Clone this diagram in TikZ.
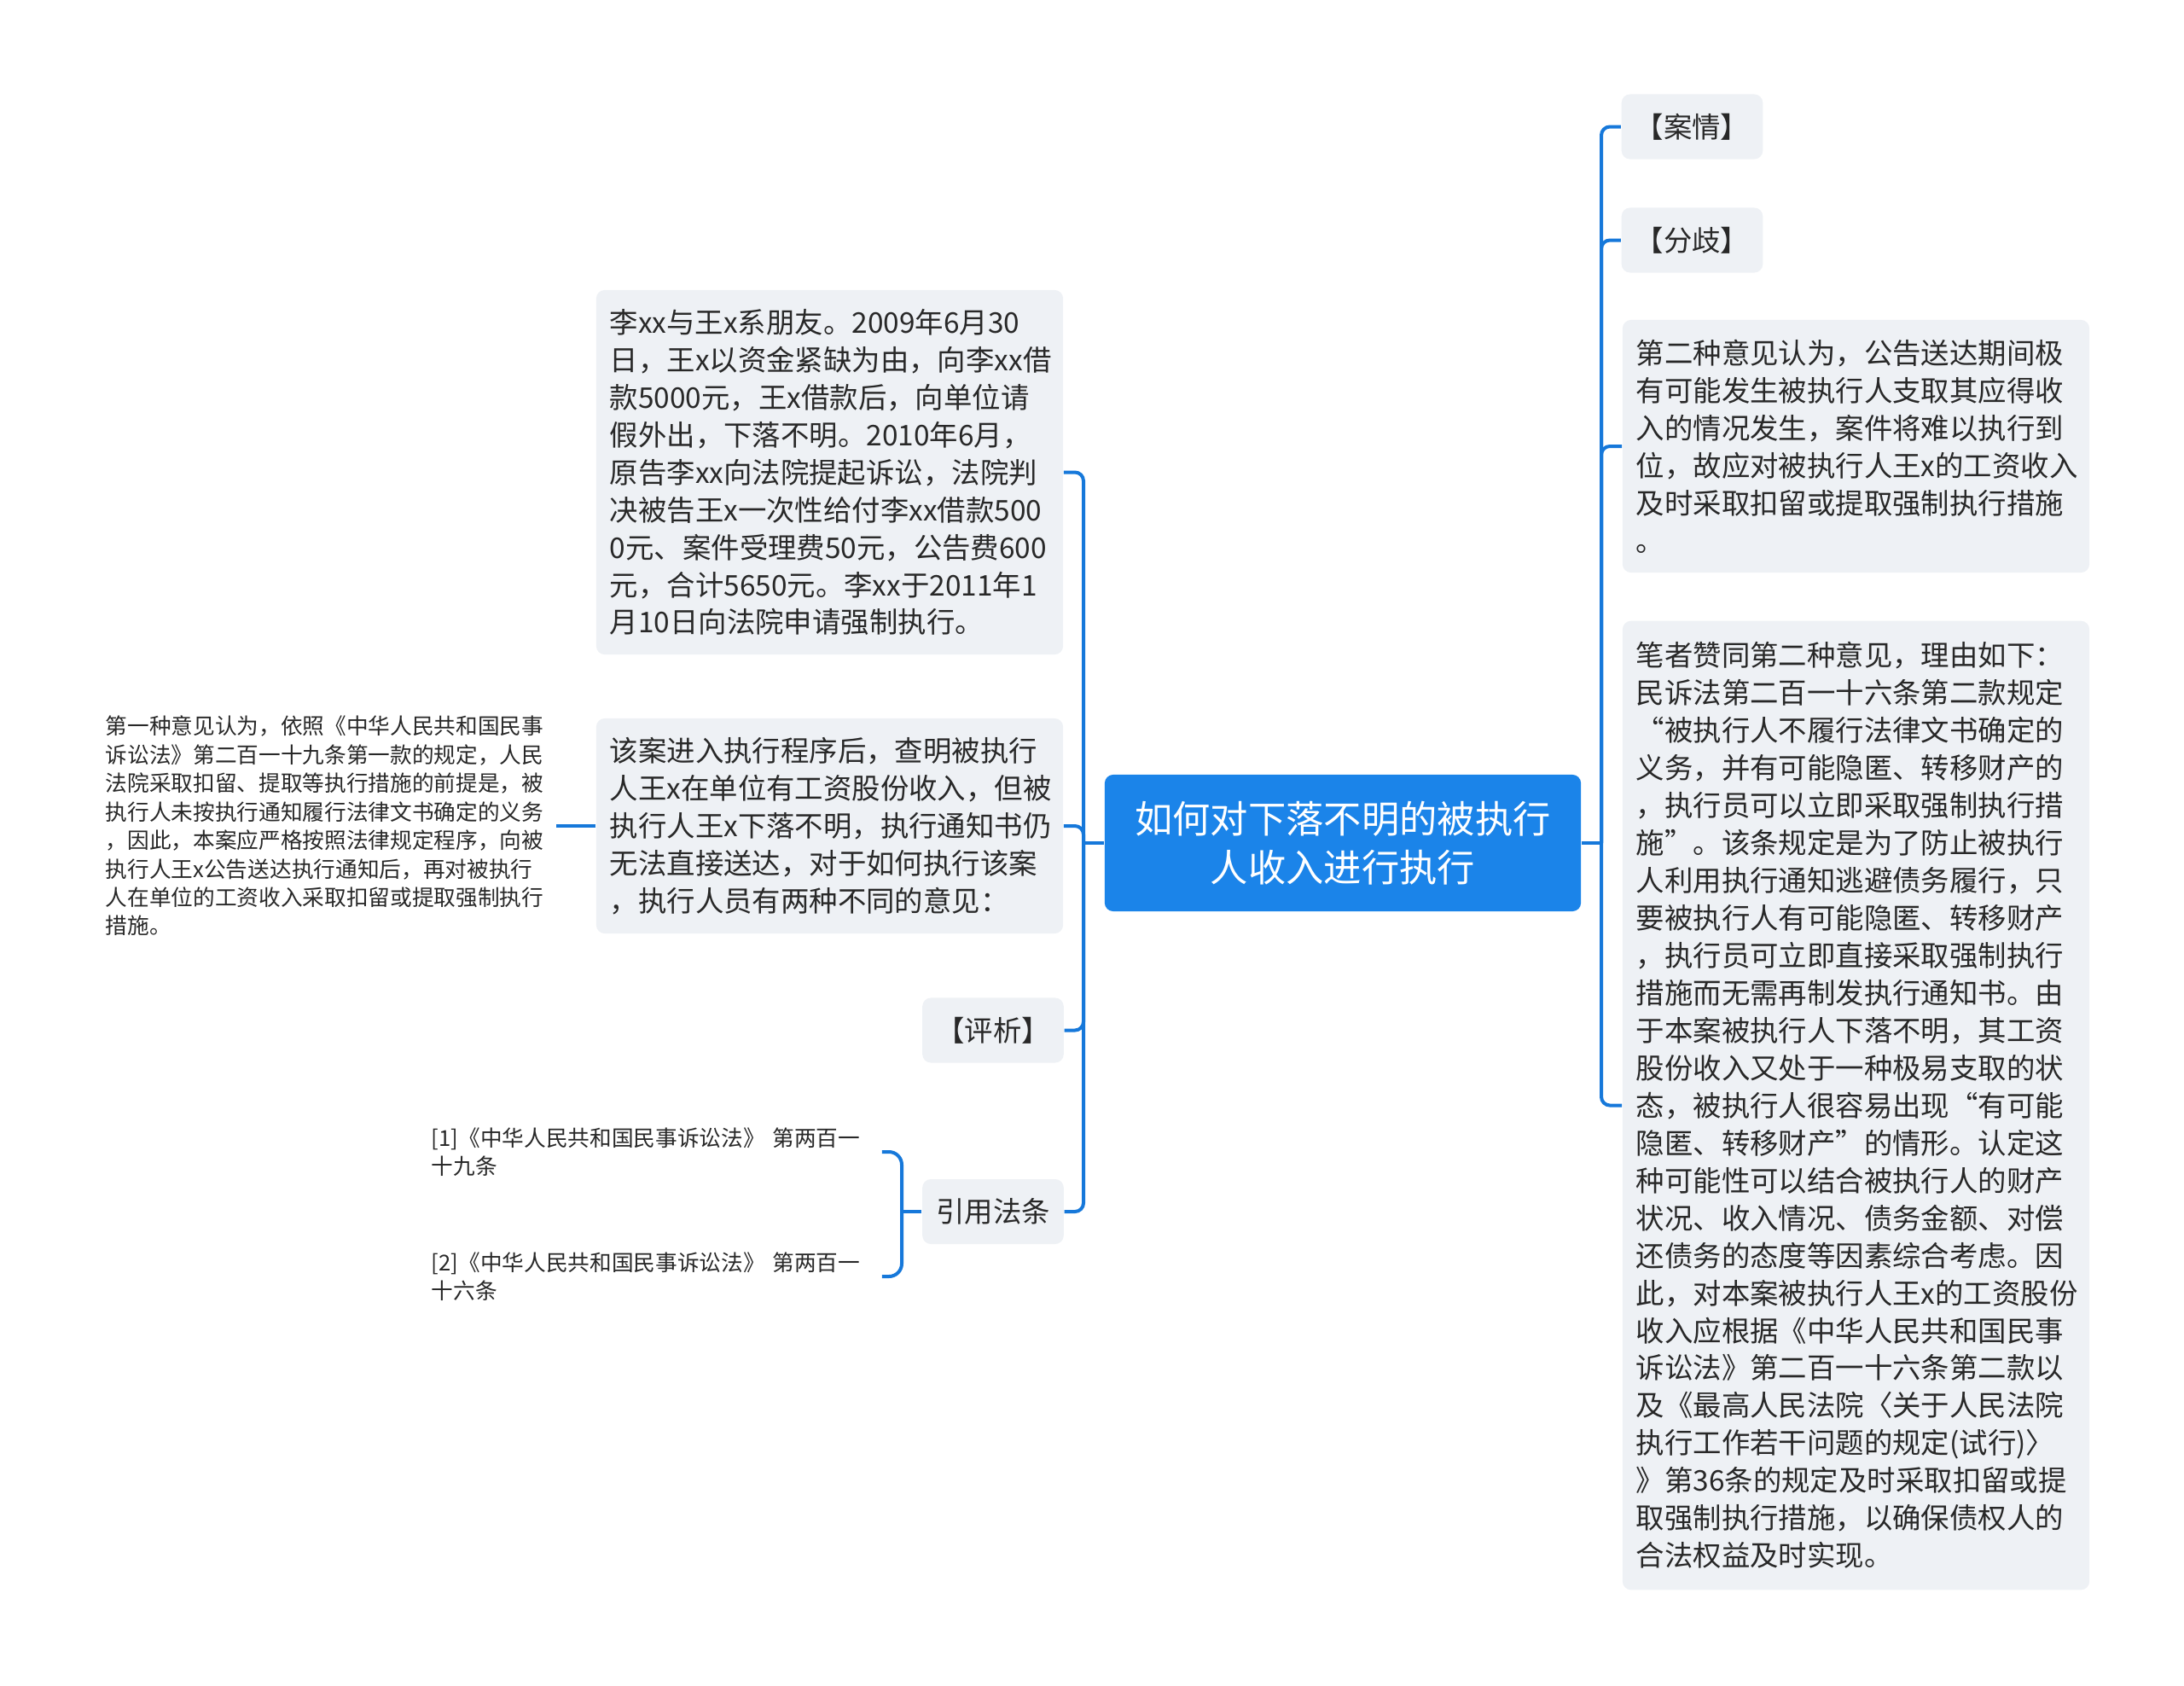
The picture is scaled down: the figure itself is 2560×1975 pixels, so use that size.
\documentclass[tikz,border=0pt]{standalone}
\usepackage{fontspec}
\newfontfamily\cjk{Noto Sans CJK SC}
\usetikzlibrary{positioning}
\definecolor{linkblue}{RGB}{22,120,218}
\definecolor{rootblue}{RGB}{27,132,233}
\definecolor{boxgrey}{RGB}{238,241,245}
\definecolor{inkgrey}{RGB}{40,40,40}

\begin{document}
\begin{tikzpicture}[x=0.01cm, y=-0.01cm,
    topic/.style={fill=boxgrey, rounded corners=0.1cm, text=inkgrey,
        font={\cjk\fontsize{9.5pt}{12.5pt}\selectfont}, inner xsep=0.16cm, inner ysep=0pt},
    textbox/.style={topic, align=left, text width=#1},
    tag/.style={topic, align=center, minimum width=1.64cm, minimum height=0.76cm},
    note/.style={text=inkgrey, align=left, inner ysep=0pt,
        font={\cjk\fontsize{7.3pt}{9.5pt}\selectfont}},
    link/.style={draw=linkblue, line width=0.04cm, rounded corners=0.1cm}]
    \useasboundingbox (0,0) rectangle (2560,1975);

    % central topic
    \node[fill=rootblue, text=white, rounded corners=0.1cm, align=center,
        minimum width=5.58cm, minimum height=1.6cm,
        font={\cjk\fontsize{12.6pt}{16.2pt}\selectfont}] (root) at (1574,988)
        {如何对下落不明的被执行\\人收入进行执行};

    % left branch
    \node[textbox=5.15cm, minimum height=4.27cm] (case) at (972.5,553.5) {%
        李xx与王x系朋友。2009年6月30\\
        日，王x以资金紧缺为由，向李xx借\\
        款5000元，王x借款后，向单位请\\
        假外出，下落不明。2010年6月，\\
        原告李xx向法院提起诉讼，法院判\\
        决被告王x一次性给付李xx借款500\\
        0元、案件受理费50元，公告费600\\
        元，合计5650元。李xx于2011年1\\
        月10日向法院申请强制执行。};
    \node[textbox=5.15cm, minimum height=2.52cm] (exec) at (972.5,968) {%
        该案进入执行程序后，查明被执行\\
        人王x在单位有工资股份收入，但被\\
        执行人王x下落不明，执行通知书仍\\
        无法直接送达，对于如何执行该案\\
        ，执行人员有两种不同的意见：};
    \node[tag] (analysis) at (1164,1207.5) {【评析】};
    \node[tag] (laws) at (1164,1420) {引用法条};

    \node[note, text width=5.14cm, inner xsep=0.13cm] (opone) at (381,968) {%
        第一种意见认为，依照《中华人民共和国民事\\
        诉讼法》第二百一十九条第一款的规定，人民\\
        法院采取扣留、提取等执行措施的前提是，被\\
        执行人未按执行通知履行法律文书确定的义务\\
        ，因此，本案应严格按照法律规定程序，向被\\
        执行人王x公告送达执行通知后，再对被执行\\
        人在单位的工资收入采取扣留或提取强制执行\\
        措施。};
    \node[note, text width=5.03cm, inner xsep=0.24cm] (refone) at (757.5,1350)
        {[1]《中华人民共和国民事诉讼法》 第两百一\\十九条};
    \node[note, text width=5.03cm, inner xsep=0.24cm] (reftwo) at (757.5,1496)
        {[2]《中华人民共和国民事诉讼法》 第两百一\\十六条};

    % right branch
    \node[tag] (facts) at (1983.5,148.5) {【案情】};
    \node[tag] (dispute) at (1983.5,281.5) {【分歧】};
    \node[textbox=5.15cm, minimum height=2.96cm] (optwo) at (2175.5,523) {%
        第二种意见认为，公告送达期间极\\
        有可能发生被执行人支取其应得收\\
        入的情况发生，案件将难以执行到\\
        位，故应对被执行人王x的工资收入\\
        及时采取扣留或提取强制执行措施\\
        。};
    \node[textbox=5.15cm, minimum height=11.35cm] (author) at (2175.5,1295.5) {%
        笔者赞同第二种意见，理由如下：\\
        民诉法第二百一十六条第二款规定\\
        “被执行人不履行法律文书确定的\\
        义务，并有可能隐匿、转移财产的\\
        ，执行员可以立即采取强制执行措\\
        施”。该条规定是为了防止被执行\\
        人利用执行通知逃避债务履行，只\\
        要被执行人有可能隐匿、转移财产\\
        ，执行员可立即直接采取强制执行\\
        措施而无需再制发执行通知书。由\\
        于本案被执行人下落不明，其工资\\
        股份收入又处于一种极易支取的状\\
        态，被执行人很容易出现“有可能\\
        隐匿、转移财产”的情形。认定这\\
        种可能性可以结合被执行人的财产\\
        状况、收入情况、债务金额、对偿\\
        还债务的态度等因素综合考虑。因\\
        此，对本案被执行人王x的工资股份\\
        收入应根据《中华人民共和国民事\\
        诉讼法》第二百一十六条第二款以\\
        及《最高人民法院〈关于人民法院\\
        执行工作若干问题的规定(试行)〉\\
        》第36条的规定及时采取扣留或提\\
        取强制执行措施，以确保债权人的\\
        合法权益及时实现。};

    % connectors
    \coordinate (lj) at (1270,988);
    \coordinate (rj) at (1877,988);
    \coordinate (bj) at (1057,1420);
    \draw[link] (root.west) -- (lj);
    \draw[link] (root.east) -- (rj);
    \foreach \n in {case, exec, analysis, laws}
        \draw[link] (lj) |- (\n.east);
    \foreach \n in {facts, dispute, optwo, author}
        \draw[link] (rj) |- (\n.west);
    \draw[link] (exec.west) -- (opone.east);
    \draw[link] (laws.west) -- (bj);
    \foreach \n in {refone, reftwo}
        \draw[link, rounded corners=0.15cm] (bj) |- (\n.east);
\end{tikzpicture}
\end{document}
